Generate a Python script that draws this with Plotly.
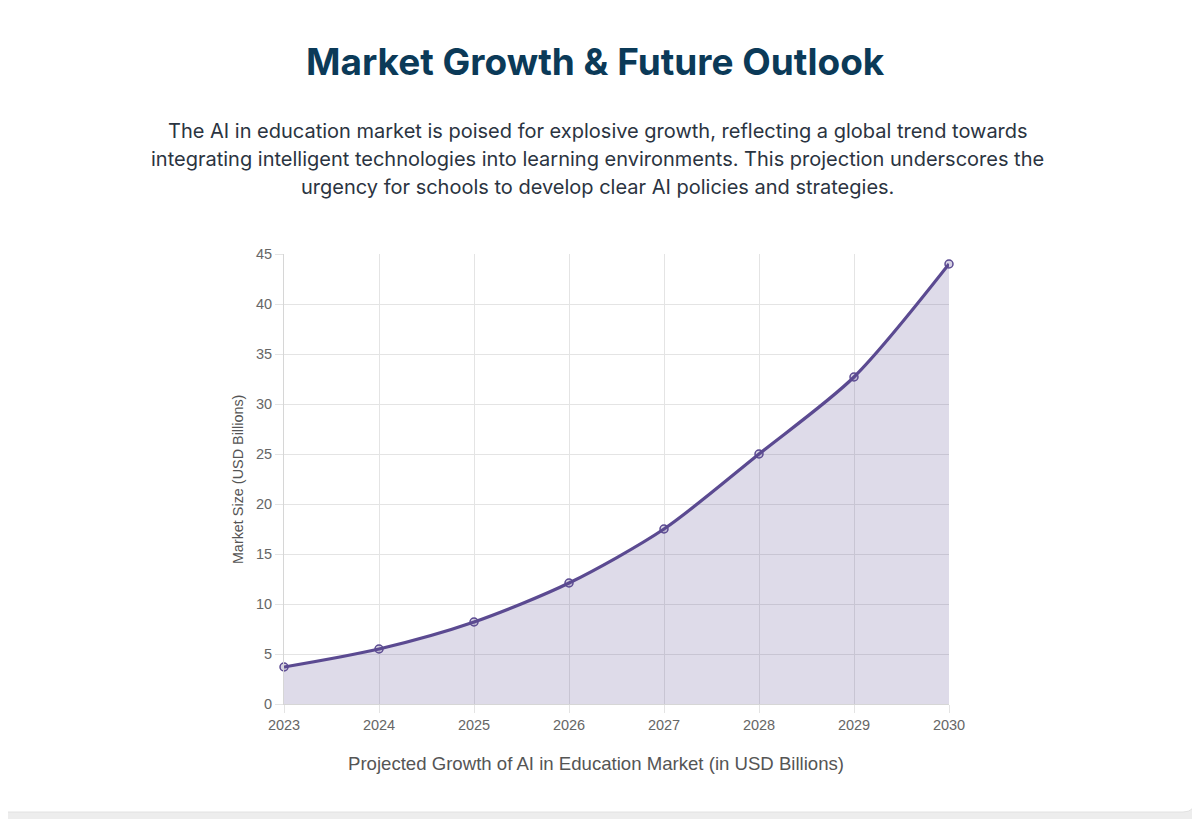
import plotly.graph_objects as go

years = [2023, 2024, 2025, 2026, 2027, 2028, 2029, 2030]
market_size = [3.7, 5.5, 8.2, 12.1, 17.5, 25.0, 32.7, 44.0]
y_ticks = [0, 5, 10, 15, 20, 25, 30, 35, 40, 45]

title_text = "Market Growth & Future Outlook"
subtitle_lines = [
    "The AI in education market is poised for explosive growth, reflecting a global trend towards",
    "integrating intelligent technologies into learning environments. This projection underscores the",
    "urgency for schools to develop clear AI policies and strategies.",
]
x_title = "Projected Growth of AI in Education Market (in USD Billions)"
y_title = "Market Size (USD Billions)"

line_color = "#5b4a91"
fill_color = "rgba(91, 74, 145, 0.2)"
grid_color = "#e4e4e4"

fig = go.Figure()
fig.add_trace(go.Scatter(
    x=years,
    y=market_size,
    mode="lines+markers",
    line=dict(color=line_color, width=3.2, shape="spline", smoothing=0.8),
    fill="tozeroy",
    fillcolor=fill_color,
    marker=dict(size=8, color="rgba(91, 74, 145, 0.25)",
                line=dict(color=line_color, width=1.5)),
    cliponaxis=False,
    hoverinfo="x+y",
))

# white card with rounded corners, grey page showing at right and bottom
r = 12
top, bot, left, right = 760, -108, -320, 911
card = (f"M {left + r},{top} L {right - r},{top} Q {right},{top} {right},{top - r} "
        f"L {right},{bot + r} Q {right},{bot} {right - r},{bot} "
        f"L {left + r},{bot} Q {left},{bot} {left},{bot + r} "
        f"L {left},{top - r} Q {left},{top} {left + r},{top} Z")

# plot area: 450 px high, 665 px wide
def py(screen_y):
    return (704 - screen_y) / 450

annotations = [
    dict(text=f"<b>{title_text}</b>", x=0.469, y=py(62),
         xref="paper", yref="paper", showarrow=False,
         xanchor="center", yanchor="middle",
         font=dict(family="Inter, sans-serif", size=37, color="#0b3a58")),
    dict(text=x_title, x=0.469, y=py(763),
         xref="paper", yref="paper", showarrow=False,
         xanchor="center", yanchor="middle",
         font=dict(family="Liberation Sans, Arial, sans-serif", size=18.6, color="#555555")),
    dict(text=y_title, x=-0.069, y=0.5, textangle=-90,
         xref="paper", yref="paper", showarrow=False,
         xanchor="center", yanchor="middle",
         font=dict(family="Liberation Sans, Arial, sans-serif", size=14.4, color="#555555")),
]
for i, line in enumerate(subtitle_lines):
    annotations.append(dict(
        text=line, x=0.472, y=py(131 + 28 * i),
        xref="paper", yref="paper", showarrow=False,
        xanchor="center", yanchor="middle",
        font=dict(family="Inter, sans-serif", size=20, color="#2b3441")))

fig.update_layout(
    width=1200,
    height=819,
    margin=dict(l=276, r=259, t=246, b=123),
    paper_bgcolor="#ededed",
    plot_bgcolor="rgba(0,0,0,0)",
    showlegend=False,
    font=dict(family="Liberation Sans, Arial, sans-serif", size=14.5, color="#666666"),
    shapes=[dict(
        type="path", path=card, layer="below",
        xref="paper", yref="paper", xsizemode="pixel", ysizemode="pixel",
        xanchor=0, yanchor=0,
        fillcolor="white", line=dict(color="#e2e2e2", width=1),
    )],
    xaxis=dict(
        range=[2023, 2030],
        tickvals=years,
        showgrid=True, gridcolor=grid_color, gridwidth=1,
        showline=True, linecolor="#d6d6d6",
        ticks="outside", ticklen=8, tickcolor=grid_color,
        zeroline=False,
        tickfont=dict(size=14.5, color="#666666"),
    ),
    yaxis=dict(
        range=[0, 45],
        tickvals=y_ticks,
        showgrid=True, gridcolor=grid_color, gridwidth=1,
        showline=True, linecolor="#d6d6d6",
        ticks="outside", ticklen=8, tickcolor=grid_color,
        zeroline=False,
        tickfont=dict(size=14.5, color="#666666"),
    ),
    annotations=annotations,
)

fig.write_html("out.html")
